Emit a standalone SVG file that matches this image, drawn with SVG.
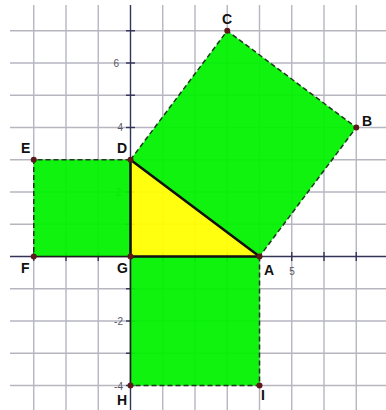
<svg xmlns="http://www.w3.org/2000/svg" width="386" height="410" viewBox="0 0 386 410">
<style>
.grid line{stroke:#b6b6c0;stroke-width:1.4}
.axis{stroke:#33335a;stroke-width:1.4}
.tick{stroke:#33335a;stroke-width:1.4}
.num{font-family:"Liberation Sans",Arial,sans-serif;font-size:10px;fill:#555566}
.sq{fill:#00f200;fill-opacity:0.94;stroke:none}
.tri{fill:#ffff00;fill-opacity:0.94;stroke:none}
.dash{stroke:#1e3a1e;stroke-width:1.5;stroke-dasharray:5 3;fill:none}
.edge{stroke:#1e1e1e;stroke-width:1.6;fill:none}
.solid{stroke:#111111;stroke-width:2.6;fill:none;stroke-linecap:round}
.pt{fill:#5a1a1a}
.lbl{font-family:"Liberation Sans",Arial,sans-serif;font-size:14px;font-weight:bold;fill:#111111}
</style>
<rect width="386" height="410" fill="#ffffff"/>
<g id="grid" class="grid">
<line x1="33.75" y1="5" x2="33.75" y2="410"/>
<line x1="66" y1="5" x2="66" y2="410"/>
<line x1="98.25" y1="5" x2="98.25" y2="410"/>
<line x1="162.75" y1="5" x2="162.75" y2="410"/>
<line x1="195" y1="5" x2="195" y2="410"/>
<line x1="227.25" y1="5" x2="227.25" y2="410"/>
<line x1="259.5" y1="5" x2="259.5" y2="410"/>
<line x1="291.75" y1="5" x2="291.75" y2="410"/>
<line x1="324" y1="5" x2="324" y2="410"/>
<line x1="356.25" y1="5" x2="356.25" y2="410"/>
<line x1="10" y1="30.75" x2="386" y2="30.75"/>
<line x1="10" y1="63" x2="386" y2="63"/>
<line x1="10" y1="95.25" x2="386" y2="95.25"/>
<line x1="10" y1="127.5" x2="386" y2="127.5"/>
<line x1="10" y1="159.75" x2="386" y2="159.75"/>
<line x1="10" y1="192" x2="386" y2="192"/>
<line x1="10" y1="224.25" x2="386" y2="224.25"/>
<line x1="10" y1="288.75" x2="386" y2="288.75"/>
<line x1="10" y1="321" x2="386" y2="321"/>
<line x1="10" y1="353.25" x2="386" y2="353.25"/>
<line x1="10" y1="385.5" x2="386" y2="385.5"/>
</g>
<g id="axes">
<line class="axis" x1="130.5" y1="5" x2="130.5" y2="410"/>
<line class="axis" x1="10" y1="256.5" x2="386" y2="256.5"/>
<g class="tick">
<line x1="126" y1="30.75" x2="135" y2="30.75"/>
<line x1="126" y1="63" x2="135" y2="63"/>
<line x1="126" y1="95.25" x2="135" y2="95.25"/>
<line x1="126" y1="127.5" x2="135" y2="127.5"/>
<line x1="126" y1="192" x2="135" y2="192"/>
<line x1="126" y1="224.25" x2="135" y2="224.25"/>
<line x1="126" y1="288.75" x2="135" y2="288.75"/>
<line x1="126" y1="321" x2="135" y2="321"/>
<line x1="126" y1="353.25" x2="135" y2="353.25"/>
<line x1="126" y1="385.5" x2="135" y2="385.5"/>
<line x1="33.75" y1="252" x2="33.75" y2="261"/>
<line x1="66" y1="252" x2="66" y2="261"/>
<line x1="98.25" y1="252" x2="98.25" y2="261"/>
<line x1="162.75" y1="252" x2="162.75" y2="261"/>
<line x1="195" y1="252" x2="195" y2="261"/>
<line x1="227.25" y1="252" x2="227.25" y2="261"/>
<line x1="291.75" y1="252" x2="291.75" y2="261"/>
<line x1="324" y1="252" x2="324" y2="261"/>
<line x1="356.25" y1="252" x2="356.25" y2="261"/>
</g>
<text class="num" x="119" y="67" text-anchor="end">6</text>
<text class="num" x="123" y="131" text-anchor="end">4</text>
<text class="num" x="121" y="196" text-anchor="end">2</text>
<text class="num" x="123" y="325" text-anchor="end">-2</text>
<text class="num" x="123" y="389.5" text-anchor="end">-4</text>
<text class="num" x="292" y="275" text-anchor="middle">5</text>
</g>
<g id="square-hyp"><polygon class="sq" points="130.5,159.75 227.25,30.75 356.25,127.5 259.5,256.5"/></g>
<g id="square-left"><polygon class="sq" points="33.75,159.75 130.5,159.75 130.5,256.5 33.75,256.5"/></g>
<g id="square-bottom"><polygon class="sq" points="130.5,256.5 259.5,256.5 259.5,385.5 130.5,385.5"/></g>
<g id="triangle"><polygon class="tri" points="130.5,159.75 259.5,256.5 130.5,256.5"/></g>
<g id="connectors">
<polyline class="dash" points="130.5,159.75 227.25,30.75 356.25,127.5 259.5,256.5"/>
<polyline class="dash" points="130.5,159.75 33.75,159.75 33.75,256.5"/>
<polyline class="dash" points="259.5,256.5 259.5,385.5 130.5,385.5"/>
<line class="edge" x1="33.75" y1="256.5" x2="130.5" y2="256.5"/>
<line class="edge" x1="130.5" y1="256.5" x2="130.5" y2="385.5"/>
<line class="solid" x1="130.5" y1="159.75" x2="259.5" y2="256.5"/>
<line class="solid" x1="130.5" y1="159.75" x2="130.5" y2="256.5"/>
<line class="solid" x1="130.5" y1="256.5" x2="259.5" y2="256.5"/>
</g>
<g id="A"><circle class="pt" cx="259.5" cy="256.5" r="3"/><text class="lbl" x="264" y="275">A</text></g>
<g id="B"><circle class="pt" cx="356.25" cy="127.5" r="3"/><text class="lbl" x="362" y="126">B</text></g>
<g id="C"><circle class="pt" cx="227.25" cy="30.75" r="3"/><text class="lbl" x="227" y="24" text-anchor="middle">C</text></g>
<g id="D"><circle class="pt" cx="130.5" cy="159.75" r="3"/><text class="lbl" x="117" y="153">D</text></g>
<g id="E"><circle class="pt" cx="33.75" cy="159.75" r="3"/><text class="lbl" x="21" y="153">E</text></g>
<g id="F"><circle class="pt" cx="33.75" cy="256.5" r="3"/><text class="lbl" x="21" y="273">F</text></g>
<g id="G"><circle class="pt" cx="130.5" cy="256.5" r="3"/><text class="lbl" x="117" y="273">G</text></g>
<g id="H"><circle class="pt" cx="130.5" cy="385.5" r="3"/><text class="lbl" x="117" y="405">H</text></g>
<g id="I"><circle class="pt" cx="259.5" cy="385.5" r="3"/><text class="lbl" x="261" y="400">I</text></g>
</svg>
